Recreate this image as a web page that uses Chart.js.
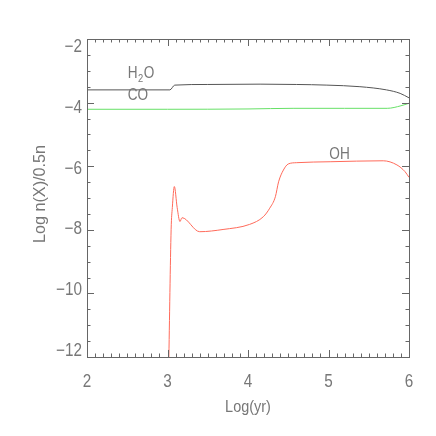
<!DOCTYPE html>
<html>
<head>
<meta charset="utf-8">
<script src="https://cdn.jsdelivr.net/npm/chart.js@4.4.1/dist/chart.umd.min.js"></script>
<style>
  html, body { margin: 0; padding: 0; background: #fff; }
  canvas { display: block; }
</style>
</head>
<body>
<canvas id="abundChart" width="436" height="436"></canvas>
<script>
// --- data (log time, log abundance) ---
const h2oX = [2.0, 3.03, 3.09, 3.5, 4.15, 4.6, 4.98, 5.39, 5.72, 5.89, 6.0];
const h2oY = [-3.60, -3.60, -3.45, -3.43, -3.42, -3.43, -3.45, -3.50, -3.60, -3.71, -3.85];

const coX = [2.0, 3.0, 4.0, 4.56, 5.2, 5.73, 5.9, 6.0];
const coY = [-4.21, -4.21, -4.20, -4.18, -4.18, -4.18, -4.10, -4.02];

const ohX = [3.015, 3.045, 3.06, 3.085, 3.12, 3.155, 3.18, 3.40, 3.69, 4.02, 4.19, 4.27, 4.34, 4.38, 4.44, 4.50, 4.60, 5.02, 5.68, 5.85, 5.95, 6.0];
const ohY = [-12.3, -8.0, -7.3, -6.64, -7.3, -7.74, -7.62, -8.06, -7.99, -7.83, -7.59, -7.32, -6.96, -6.49, -6.12, -5.93, -5.89, -5.86, -5.83, -5.96, -6.17, -6.35];

// tick labels
const xTicks = [2, 3, 4, 5, 6];
const yTicks = [-2, -4, -6, -8, -10, -12];

// curve labels (data coords of left end / baseline)
const labelNames = ["H2O", "CO", "OH"];
const labelX = [2.505, 2.505, 5.01];
const labelY = [-3.29, -3.97, -5.83];

const axisColor = "#666";
const textColor = "#777";

function toPoints(xs, ys) {
  return xs.map((x, i) => ({ x: x, y: ys[i] }));
}

function drawText(ctx, text, x, y, size, align, sx) {
  ctx.save();
  ctx.font = size + "px 'Liberation Sans', Arial, sans-serif";
  ctx.textBaseline = "middle";
  ctx.fillStyle = textColor;
  const w = ctx.measureText(text).width * sx;
  let left = x;
  if (align === "center") left = x - w / 2;
  if (align === "right") left = x - w;
  ctx.translate(left, y);
  ctx.scale(sx, 1);
  ctx.textAlign = "left";
  ctx.fillText(text, 0, 0);
  ctx.restore();
}

// --- frame, inward ticks on all four sides, labels ---
const idlAxes = {
  id: "idlAxes",
  afterDraw(chart) {
    const ctx = chart.ctx;
    const a = chart.chartArea;
    const xs = chart.scales.x;
    const ys = chart.scales.y;

    ctx.save();
    ctx.strokeStyle = axisColor;
    ctx.lineWidth = 1;
    ctx.strokeRect(a.left + 0.5, a.top + 0.5, a.right - a.left, a.bottom - a.top);

    ctx.beginPath();
    // x ticks every 0.1, major every 1
    for (let i = 0; i <= 40; i++) {
      const v = 2 + i * 0.1;
      const px = Math.round(xs.getPixelForValue(v)) + 0.5;
      const len = i % 10 === 0 ? 7 : 3.5;
      ctx.moveTo(px, a.bottom);
      ctx.lineTo(px, a.bottom - len);
      ctx.moveTo(px, a.top);
      ctx.lineTo(px, a.top + len);
    }
    // y ticks every 0.5, major every 2
    for (let i = 0; i <= 20; i++) {
      const v = -12 + i * 0.5;
      const py = Math.round(ys.getPixelForValue(v)) + 0.5;
      const len = i % 4 === 0 ? 7 : 3.5;
      ctx.moveTo(a.left, py);
      ctx.lineTo(a.left + len, py);
      ctx.moveTo(a.right, py);
      ctx.lineTo(a.right - len, py);
    }
    ctx.stroke();
    ctx.restore();

    // tick labels
    xTicks.forEach(v => {
      drawText(ctx, String(v), xs.getPixelForValue(v), a.bottom + 25, 18, "center", 0.85);
    });
    const midY = (a.top + a.bottom) / 2;
    yTicks.forEach(v => {
      const py = ys.getPixelForValue(v);
      const lab = v < 0 ? "\u2212" + Math.abs(v) : String(v);
      drawText(ctx, lab, a.left - 5, py + (midY - py) * 0.043 + 1, 18, "right", 0.85);
    });

    // axis titles
    drawText(ctx, "Log(yr)", (a.left + a.right) / 2, a.bottom + 50, 17, "center", 0.85);
    ctx.save();
    ctx.translate(40, 194);
    ctx.rotate(-Math.PI / 2);
    drawText(ctx, "Log n(X)/0.5n", 0, 0, 17, "center", 0.95);
    ctx.restore();

    // curve labels
    labelNames.forEach((name, i) => {
      const px = xs.getPixelForValue(labelX[i]);
      const py = ys.getPixelForValue(labelY[i]) - 6;
      if (name === "H2O") {
        ctx.save();
        ctx.font = "16px 'Liberation Sans', Arial, sans-serif";
        const sx = 0.85;
        const wH = ctx.measureText("H").width * sx;
        drawText(ctx, "H", px, py, 16, "left", sx);
        ctx.font = "11px 'Liberation Sans', Arial, sans-serif";
        const w2 = ctx.measureText("2").width * sx;
        drawText(ctx, "2", px + wH + 0.5, py + 5, 11, "left", sx);
        drawText(ctx, "O", px + wH + w2 + 1, py, 16, "left", sx);
        ctx.restore();
      } else {
        drawText(ctx, name, px, py, 16, "left", 0.85);
      }
    });
  }
};

const ctx = document.getElementById("abundChart").getContext("2d");

new Chart(ctx, {
  type: "line",
  data: {
    datasets: [
      {
        label: "H2O",
        data: toPoints(h2oX, h2oY),
        borderColor: "#555555",
        borderWidth: 1,
        pointRadius: 0,
        cubicInterpolationMode: "monotone"
      },
      {
        label: "CO",
        data: toPoints(coX, coY),
        borderColor: "#66e066",
        borderWidth: 1,
        pointRadius: 0,
        cubicInterpolationMode: "monotone"
      },
      {
        label: "OH",
        data: toPoints(ohX, ohY),
        borderColor: "#ff6a5a",
        borderWidth: 1,
        pointRadius: 0,
        cubicInterpolationMode: "monotone"
      }
    ]
  },
  options: {
    responsive: false,
    animation: false,
    layout: { padding: { left: 87, top: 39, right: 27, bottom: 79 } },
    plugins: {
      legend: { display: false },
      tooltip: { enabled: false }
    },
    scales: {
      x: { type: "linear", min: 2, max: 6, display: false },
      y: { type: "linear", min: -12, max: -2, display: false }
    }
  },
  plugins: [idlAxes]
});
</script>
</body>
</html>
